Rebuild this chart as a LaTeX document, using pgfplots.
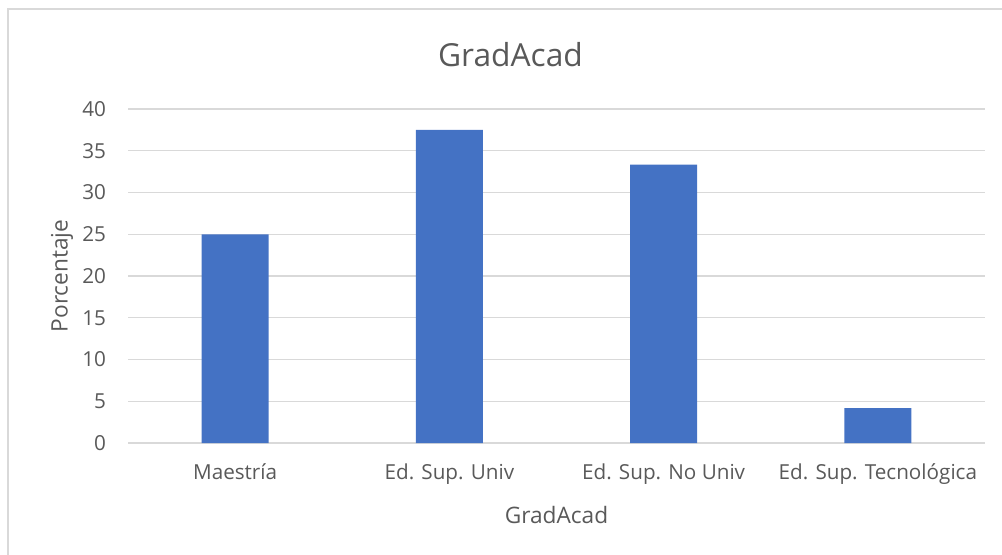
\documentclass[border=0pt]{standalone}
\usepackage{pgfplots}
\pgfplotsset{compat=1.18}
\usepackage{fontspec}
\setmainfont{Open Sans}
\definecolor{barblue}{HTML}{4472C4}
\definecolor{txt}{HTML}{595959}
\definecolor{gridc}{HTML}{D9D9D9}
\begin{document}
\begin{tikzpicture}[x=0.75pt,y=-0.75pt]
\useasboundingbox (0,0) rectangle (1002,555);
\draw[gridc, line width=1.1pt] (8,555) -- (8,9) -- (1002,9);
\begin{axis}[
  at={(96pt,-332.25pt)}, anchor=south west,
  scale only axis,
  width=642.75pt, height=250.5pt,
  xmin=-0.5, xmax=3.5, ymin=0, ymax=40,
  ytick={0,5,...,40},
  xtick={0,1,2,3},
  xticklabels={Maestría, Ed. Sup. Univ, Ed. Sup. No Univ, Ed. Sup. Tecnológica},
  axis line style={draw=none},
  tick style={draw=none},
  xmajorgrids=false, ymajorgrids=true,
  grid style={draw=gridc, line width=1.1pt},
  /pgf/number format/assume math mode=true,
  ticklabel style={font=\fontsize{15.5}{18}\selectfont, text=txt},
  yticklabel style={anchor=east, xshift=-13pt},
  xticklabel style={anchor=north, yshift=-12pt},
  xlabel={GradAcad}, ylabel={Porcentaje},
  label style={font=\fontsize{17}{20}\selectfont, text=txt},
  xlabel style={yshift=-9.5pt},
  ylabel style={yshift=0pt},
  title={GradAcad},
  title style={font=\fontsize{23.8}{28}\selectfont, text=txt, yshift=22pt, xshift=-34.5pt},
]
\addplot[ybar, bar width=0.3125, fill=barblue, draw=none] coordinates {(0,25) (1,37.5) (2,33.33) (3,4.17)};
\end{axis}
\end{tikzpicture}
\end{document}
